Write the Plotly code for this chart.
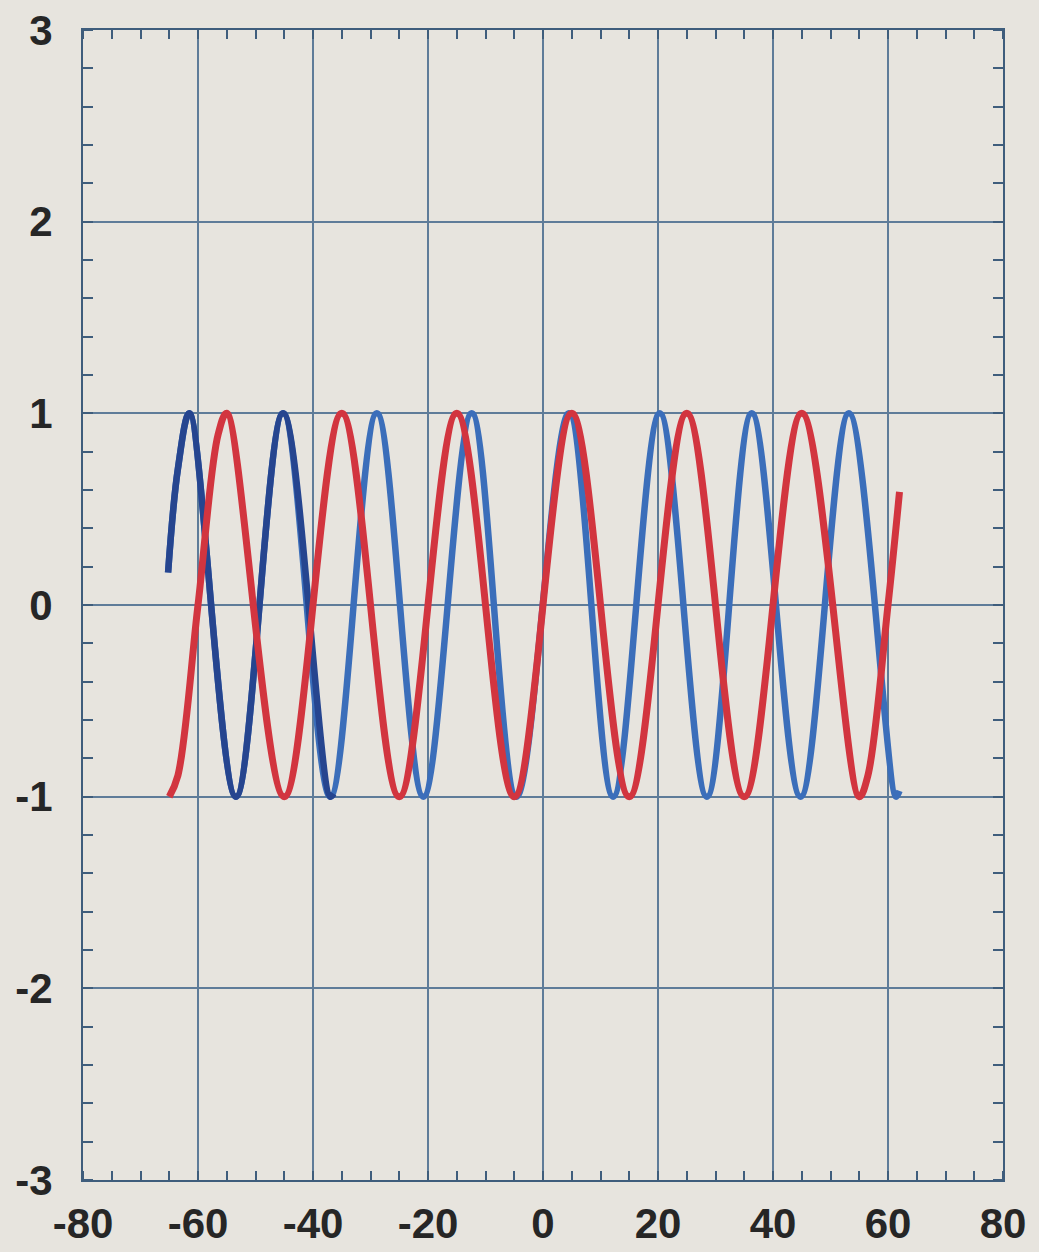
import plotly.graph_objects as go

# ---- data (turning points of each wave,
#      plus a few read points where the waves start and stop) ----
red_x = [-65, -63.5, -60, -56.5, -55, -45, -35, -25, -15, -5, 5, 15, 25, 35, 45,
         55, 56.5, 60, 62]
red_y = [-1, -0.89, 0, 0.89, 1, -1, 1, -1, 1, -1, 1, -1, 1, -1, 1,
         -1, -0.89, 0, 0.59]

blue_x = [-65.2, -63.5, -61.5, -53.4, -45.2, -37.0, -28.9, -20.8, -12.4, -4.6, 4.5,
          12.2, 20.3, 28.5, 36.3, 44.8, 53.2, 61.4, 62.0]
blue_y = [0.17, 0.71, 1, -1, 1, -1, 1, -1, 1, -1, 1,
          -1, 1, -1, 1, -1, 1, -1, -0.97]

# left stretch of the blue wave, printed in a darker navy
blue_dark_x = [-65.2, -63.5, -61.5, -53.4, -45.2, -37.0, -36.4]
blue_dark_y = [0.17, 0.71, 1, -1, 1, -1, -0.985]

x_ticks = [-80, -60, -40, -20, 0, 20, 40, 60, 80]
y_ticks = [-3, -2, -1, 0, 1, 2, 3]

BG = "#e7e4de"
GRID = "#5f7c99"
FRAME = "#3f5d7c"
FONT = dict(family="Liberation Sans, Arial, sans-serif", size=42, color="#262626", weight="bold")

fig = go.Figure()
fig.add_trace(go.Scatter(x=blue_x, y=blue_y, mode="lines",
                         line=dict(color="#3b6eba", width=6.5, shape="spline", smoothing=1.0),
                         showlegend=False, hoverinfo="skip"))
fig.add_trace(go.Scatter(x=blue_dark_x, y=blue_dark_y, mode="lines",
                         line=dict(color="#26458f", width=6.5, shape="spline", smoothing=1.0),
                         showlegend=False, hoverinfo="skip"))
fig.add_trace(go.Scatter(x=red_x, y=red_y, mode="lines",
                         line=dict(color="#d2353f", width=7, shape="spline", smoothing=1.0),
                         showlegend=False, hoverinfo="skip"))

axis_common = dict(showgrid=True, gridcolor=GRID, gridwidth=1.5, automargin=False,
                   zeroline=False, showline=True, linecolor=FRAME, linewidth=2,
                   mirror="allticks", ticks="", tickfont=FONT)

fig.update_xaxes(range=[-80, 80], tickvals=x_ticks, ticktext=[str(v) for v in x_ticks],
                 ticklabelstandoff=6,
                 minor=dict(dtick=5, tick0=0, ticks="inside", ticklen=9, tickwidth=2,
                            tickcolor=FRAME, showgrid=False),
                 **axis_common)
fig.update_yaxes(range=[-3, 3], tickvals=y_ticks, ticktext=[str(v) for v in y_ticks],
                 ticklabelstandoff=20,
                 minor=dict(dtick=0.2, tick0=0, ticks="inside", ticklen=10, tickwidth=2,
                            tickcolor=FRAME, showgrid=False),
                 **axis_common)

fig.update_layout(width=1039, height=1252,
                  margin=dict(l=83, r=36, t=30, b=72),
                  paper_bgcolor=BG, plot_bgcolor=BG)

fig.write_html("out.html")
